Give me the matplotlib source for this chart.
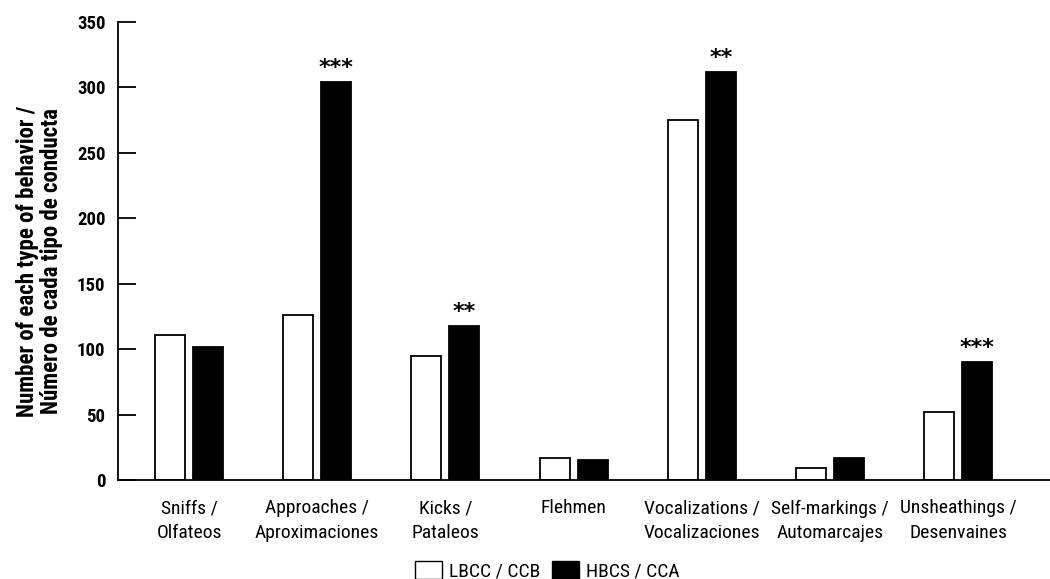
import matplotlib
matplotlib.use("Agg")
import matplotlib.pyplot as plt
import numpy as np
from matplotlib.patches import Patch

categories = ["Sniffs /\nOlfateos", "Approaches /\nAproximaciones", "Kicks /\nPataleos",
              "Flehmen", "Vocalizations /\nVocalizaciones", "Self-markings /\nAutomarcajes",
              "Unsheathings /\nDesenvaines"]
lbcc = [111, 126, 95, 17, 275, 9, 52]
hbcs = [102, 304, 118, 15, 312, 17, 90]
signif = ["", "***", "**", "", "**", "", "***"]
series_names = ["LBCC / CCB", "HBCS / CCA"]
yticks = [0, 50, 100, 150, 200, 250, 300, 350]

plt.rcParams['font.family'] = ['Roboto Condensed', 'DejaVu Sans']

fig = plt.figure(figsize=(10.5, 5.79), dpi=100)
ax = fig.add_axes([118/1050, 1-480/579, 1-118/1050, (480-22)/579])

x = np.arange(len(categories))
w = 0.234
off = 0.148
ax.bar(x - off, lbcc, w, color="white", edgecolor="black", linewidth=1.3)
ax.bar(x + off, hbcs, w, color="black", edgecolor="black", linewidth=1.3)

for xi, v, s in zip(x, hbcs, signif):
    if s:
        ax.text(xi + off, v + 3, s, ha="center", va="bottom", fontsize=16,
                fontweight="bold", family="DejaVu Sans")

ax.set_xlim(-0.554, 6.716)
ax.set_ylim(0, 350)
ax.set_yticks(yticks)
ax.set_yticklabels([str(t) for t in yticks], fontweight="bold", fontsize=13.5)
ax.set_xticks(x)
ax.set_xticklabels(categories, fontsize=14, linespacing=1.47)
ax.tick_params(axis="x", length=0, pad=14)
ax.tick_params(axis="y", length=13, width=1.3, direction="in", pad=9)
for s in ["top", "right"]:
    ax.spines[s].set_visible(False)
ax.spines["left"].set_linewidth(1.3)
ax.spines["bottom"].set_linewidth(1.3)
ax.set_ylabel("Number of each type of behavior /\nNúmero de cada tipo de conducta",
              fontsize=16.5, fontweight="bold", labelpad=10, linespacing=1.05)
ax.yaxis.label.set_y(0.478)

handles = [Patch(facecolor="white", edgecolor="black", linewidth=1.0),
           Patch(facecolor="black", edgecolor="black", linewidth=1.0)]
fig.legend(handles, series_names, loc="center", bbox_to_anchor=(547/1050, 1-571/579),
           ncol=2, frameon=False, fontsize=14, handlelength=1.4, handleheight=1.0,
           handletextpad=0.35, columnspacing=0.6, borderpad=0.1)

fig.savefig("out.png", dpi=100)
